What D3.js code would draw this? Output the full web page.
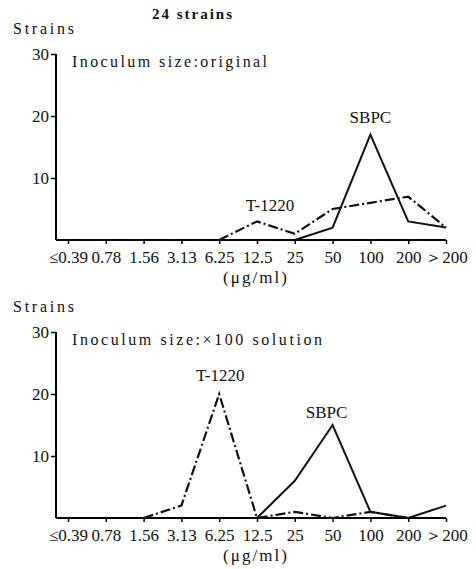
<!DOCTYPE html>
<html>
<head>
<meta charset="utf-8">
<script src="https://cdn.jsdelivr.net/npm/d3@7"></script>
<style>
  body { margin: 0; background: #fff; }
  svg { display: block; }
  text { font-family: "Liberation Serif", "DejaVu Serif", serif; fill: #111; }
</style>
</head>
<body>
<svg width="476" height="569"></svg>
<script>
// MIC classes (µg/ml)
const concLabels = ["≤0.39", "0.78", "1.56", "3.13", "6.25", "12.5", "25", "50", "100", "200", "＞200"];
const yTicks = [10, 20, 30];

// number of strains per MIC, null = no line drawn there
const origSBPC  = [null, null, null, null, null, null, 0, 2, 17, 3, 2];
const origT1220 = [null, null, null, null, 0, 3, 1, 5, 6, 7, 2];
const x100SBPC  = [null, null, null, null, null, 0, 6, 15, 1, 0, 2];
const x100T1220 = [null, null, 0, 2, 20, 0, 1, 0, 1, 0, null];

const svg = d3.select("svg");

const x = d3.scalePoint().domain(concLabels).range([68, 446]);
const axisLeftX = 56;

svg.append("text")
    .attr("x", 192).attr("y", 14)
    .attr("text-anchor", "middle").attr("dominant-baseline", "central")
    .style("font-size", "15px").style("font-weight", "bold")
    .attr("textLength", 80).attr("lengthAdjust", "spacing")
    .text("24 strains");

function drawPanel(top, bottom, title, titleLen, sbpc, t1220, sbpcLbl, tLbl) {
    const y = d3.scaleLinear().domain([0, 30]).range([bottom, top]);
    const g = svg.append("g");

    g.append("text")
        .attr("x", 13).attr("y", top - 26)
        .attr("dominant-baseline", "central")
        .style("font-size", "16px")
        .attr("textLength", 61).attr("lengthAdjust", "spacing")
        .text("Strains");

    // y axis
    const ya = g.append("g")
        .attr("transform", `translate(${axisLeftX},0)`)
        .call(d3.axisLeft(y).tickValues(yTicks).tickSize(5).tickSizeOuter(0).tickPadding(2));
    ya.select(".domain").attr("stroke-width", 2).attr("d", `M0,${top}V${bottom}`);
    ya.selectAll(".tick line").attr("stroke-width", 1.5);
    ya.selectAll(".tick text").style("font-size", "17px").attr("fill", "#111");

    // x axis
    const xa = g.append("g")
        .attr("transform", `translate(0,${bottom})`)
        .call(d3.axisBottom(x).tickSize(4).tickSizeOuter(0).tickPadding(7));
    xa.select(".domain").attr("stroke-width", 2).attr("d", `M${axisLeftX},0H${x(concLabels[concLabels.length - 1])}`);
    xa.selectAll(".tick line").attr("stroke-width", 1.5);
    xa.selectAll(".tick text").style("font-size", "17px").attr("fill", "#111");

    g.append("text")
        .attr("x", 255).attr("y", bottom + 37)
        .attr("text-anchor", "middle").attr("dominant-baseline", "central")
        .style("font-size", "17px")
        .attr("textLength", 64).attr("lengthAdjust", "spacing")
        .text("(μg/ml)");

    g.append("text")
        .attr("x", 72).attr("y", top + 7)
        .attr("dominant-baseline", "central")
        .style("font-size", "16px")
        .attr("textLength", titleLen).attr("lengthAdjust", "spacing")
        .text(title);

    const line = d3.line()
        .defined(d => d != null)
        .x((d, i) => x(concLabels[i]))
        .y(d => y(d));

    g.append("path").datum(sbpc)
        .attr("fill", "none").attr("stroke", "#111").attr("stroke-width", 2)
        .attr("d", line);
    g.append("path").datum(t1220)
        .attr("fill", "none").attr("stroke", "#111").attr("stroke-width", 2.2)
        .attr("stroke-dasharray", "10,3,2,3")
        .attr("d", line);

    g.append("text")
        .attr("x", x(sbpcLbl[0]) + sbpcLbl[1]).attr("y", y(sbpcLbl[2]))
        .attr("text-anchor", "middle").attr("dominant-baseline", "central")
        .style("font-size", "17px")
        .text("SBPC");
    g.append("text")
        .attr("x", x(tLbl[0]) + tLbl[1]).attr("y", y(tLbl[2]))
        .attr("text-anchor", "middle").attr("dominant-baseline", "central")
        .style("font-size", "17px")
        .text("T-1220");
}

drawPanel(54, 240, "Inoculum size:original", 195, origSBPC, origT1220, ["100", 0, 19.8], ["12.5", 13, 5.5]);
drawPanel(332, 518, "Inoculum size:×100 solution", 250, x100SBPC, x100T1220, ["50", -6, 17], ["6.25", 1, 23]);
</script>
</body>
</html>
